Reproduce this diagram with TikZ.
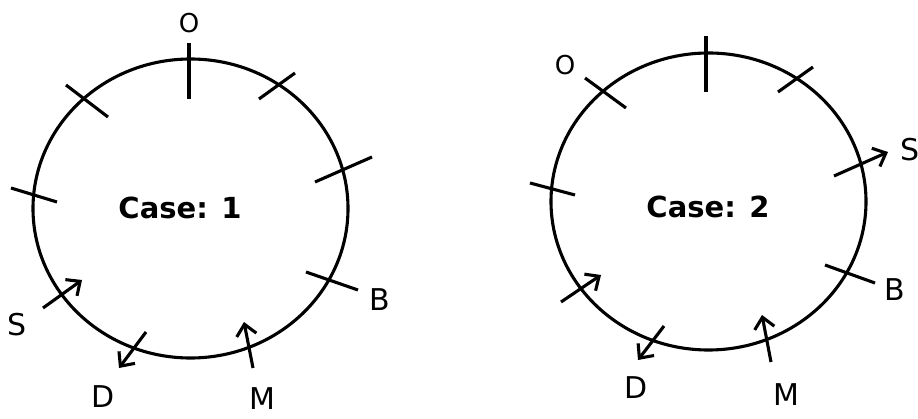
\documentclass[tikz,border=0pt]{standalone}
\usepackage{fontspec}
\setmainfont{DejaVu Sans}
\usetikzlibrary{arrows.meta}
\begin{document}
\begin{tikzpicture}[x=1pt,y=-1pt,
  ln/.style={line width=3.1pt},
  arr/.style={ln,-{Straight Barb[length=11pt,width=20pt,line width=3.1pt]}},
  lbl/.style={font=\fontsize{30}{31}\selectfont, inner sep=0pt},
  olbl/.style={font=\fontsize{26}{27}\selectfont, inner sep=0pt},
  title/.style={font=\bfseries\fontsize{29}{30}\selectfont, inner sep=0pt}]
\useasboundingbox (0,0) rectangle (918,419);
% ---------- Case 1 ----------
\draw[ln] (190.5,208.5) ellipse [x radius=157.5, y radius=149.5];
\node[title] (c1) at (180,208) {Case: 1};
\coordinate (a1) at (189,43);  \coordinate (a2) at (189,99);
\coordinate (b1) at (66,85);   \coordinate (b2) at (108,117);
\coordinate (c1a) at (295,73); \coordinate (c1b) at (259,99);
\coordinate (d1) at (372,157); \coordinate (d2) at (315,182);
\coordinate (e1) at (11,188);  \coordinate (e2) at (57,202);
\coordinate (f1) at (306,272); \coordinate (f2) at (358,290);
\coordinate (s1) at (43,308);  \coordinate (s2) at (82,280);
\coordinate (g1) at (146,332); \coordinate (g2) at (119,368);
\coordinate (m1) at (253,368); \coordinate (m2) at (244,322);
\draw[ln] (a1) -- (a2);
\draw[ln] (b1) -- (b2);
\draw[ln] (c1a) -- (c1b);
\draw[ln] (d1) -- (d2);
\draw[ln] (e1) -- (e2);
\draw[ln] (f1) -- (f2);
\draw[arr] (s1) -- (s2);
\draw[arr] (g1) -- (g2);
\draw[arr] (m1) -- (m2);
\node[olbl] (O1) at (189,23) {O};
\node[lbl] (S1) at (17,325) {S};
\node[lbl] (D1) at (103,397) {D};
\node[lbl] (M1) at (262,399) {M};
\node[lbl] (B1) at (380,300) {B};
% ---------- Case 2 ----------
\draw[ln] (708.5,201.5) ellipse [x radius=157.5, y radius=148.5];
\node[title] (c2) at (708,207) {Case: 2};
\coordinate (p1) at (706,36);  \coordinate (p2) at (706,92);
\coordinate (q1) at (585,78);  \coordinate (q2) at (626,108);
\coordinate (r1) at (813,67);  \coordinate (r2) at (778,92);
\coordinate (t1) at (530,183); \coordinate (t2) at (575,195);
\coordinate (u1) at (834,176); \coordinate (u2) at (888,152);
\coordinate (v1) at (825,265); \coordinate (v2) at (875,283);
\coordinate (w1) at (561,302); \coordinate (w2) at (601,275);
\coordinate (x1) at (664,326); \coordinate (x2) at (638,360);
\coordinate (y1) at (771,362); \coordinate (y2) at (762,315);
\draw[ln] (p1) -- (p2);
\draw[ln] (q1) -- (q2);
\draw[ln] (r1) -- (r2);
\draw[ln] (t1) -- (t2);
\draw[arr] (u1) -- (u2);
\draw[ln] (v1) -- (v2);
\draw[arr] (w1) -- (w2);
\draw[arr] (x1) -- (x2);
\draw[arr] (y1) -- (y2);
\node[olbl] (O2) at (565,65) {O};
\node[lbl, anchor=west] (S2) at (900,150) {S};
\node[lbl] (D2) at (636,388) {D};
\node[lbl] (M2) at (786,395) {M};
\node[lbl] (B2) at (895,290) {B};
\end{tikzpicture}
\end{document}
